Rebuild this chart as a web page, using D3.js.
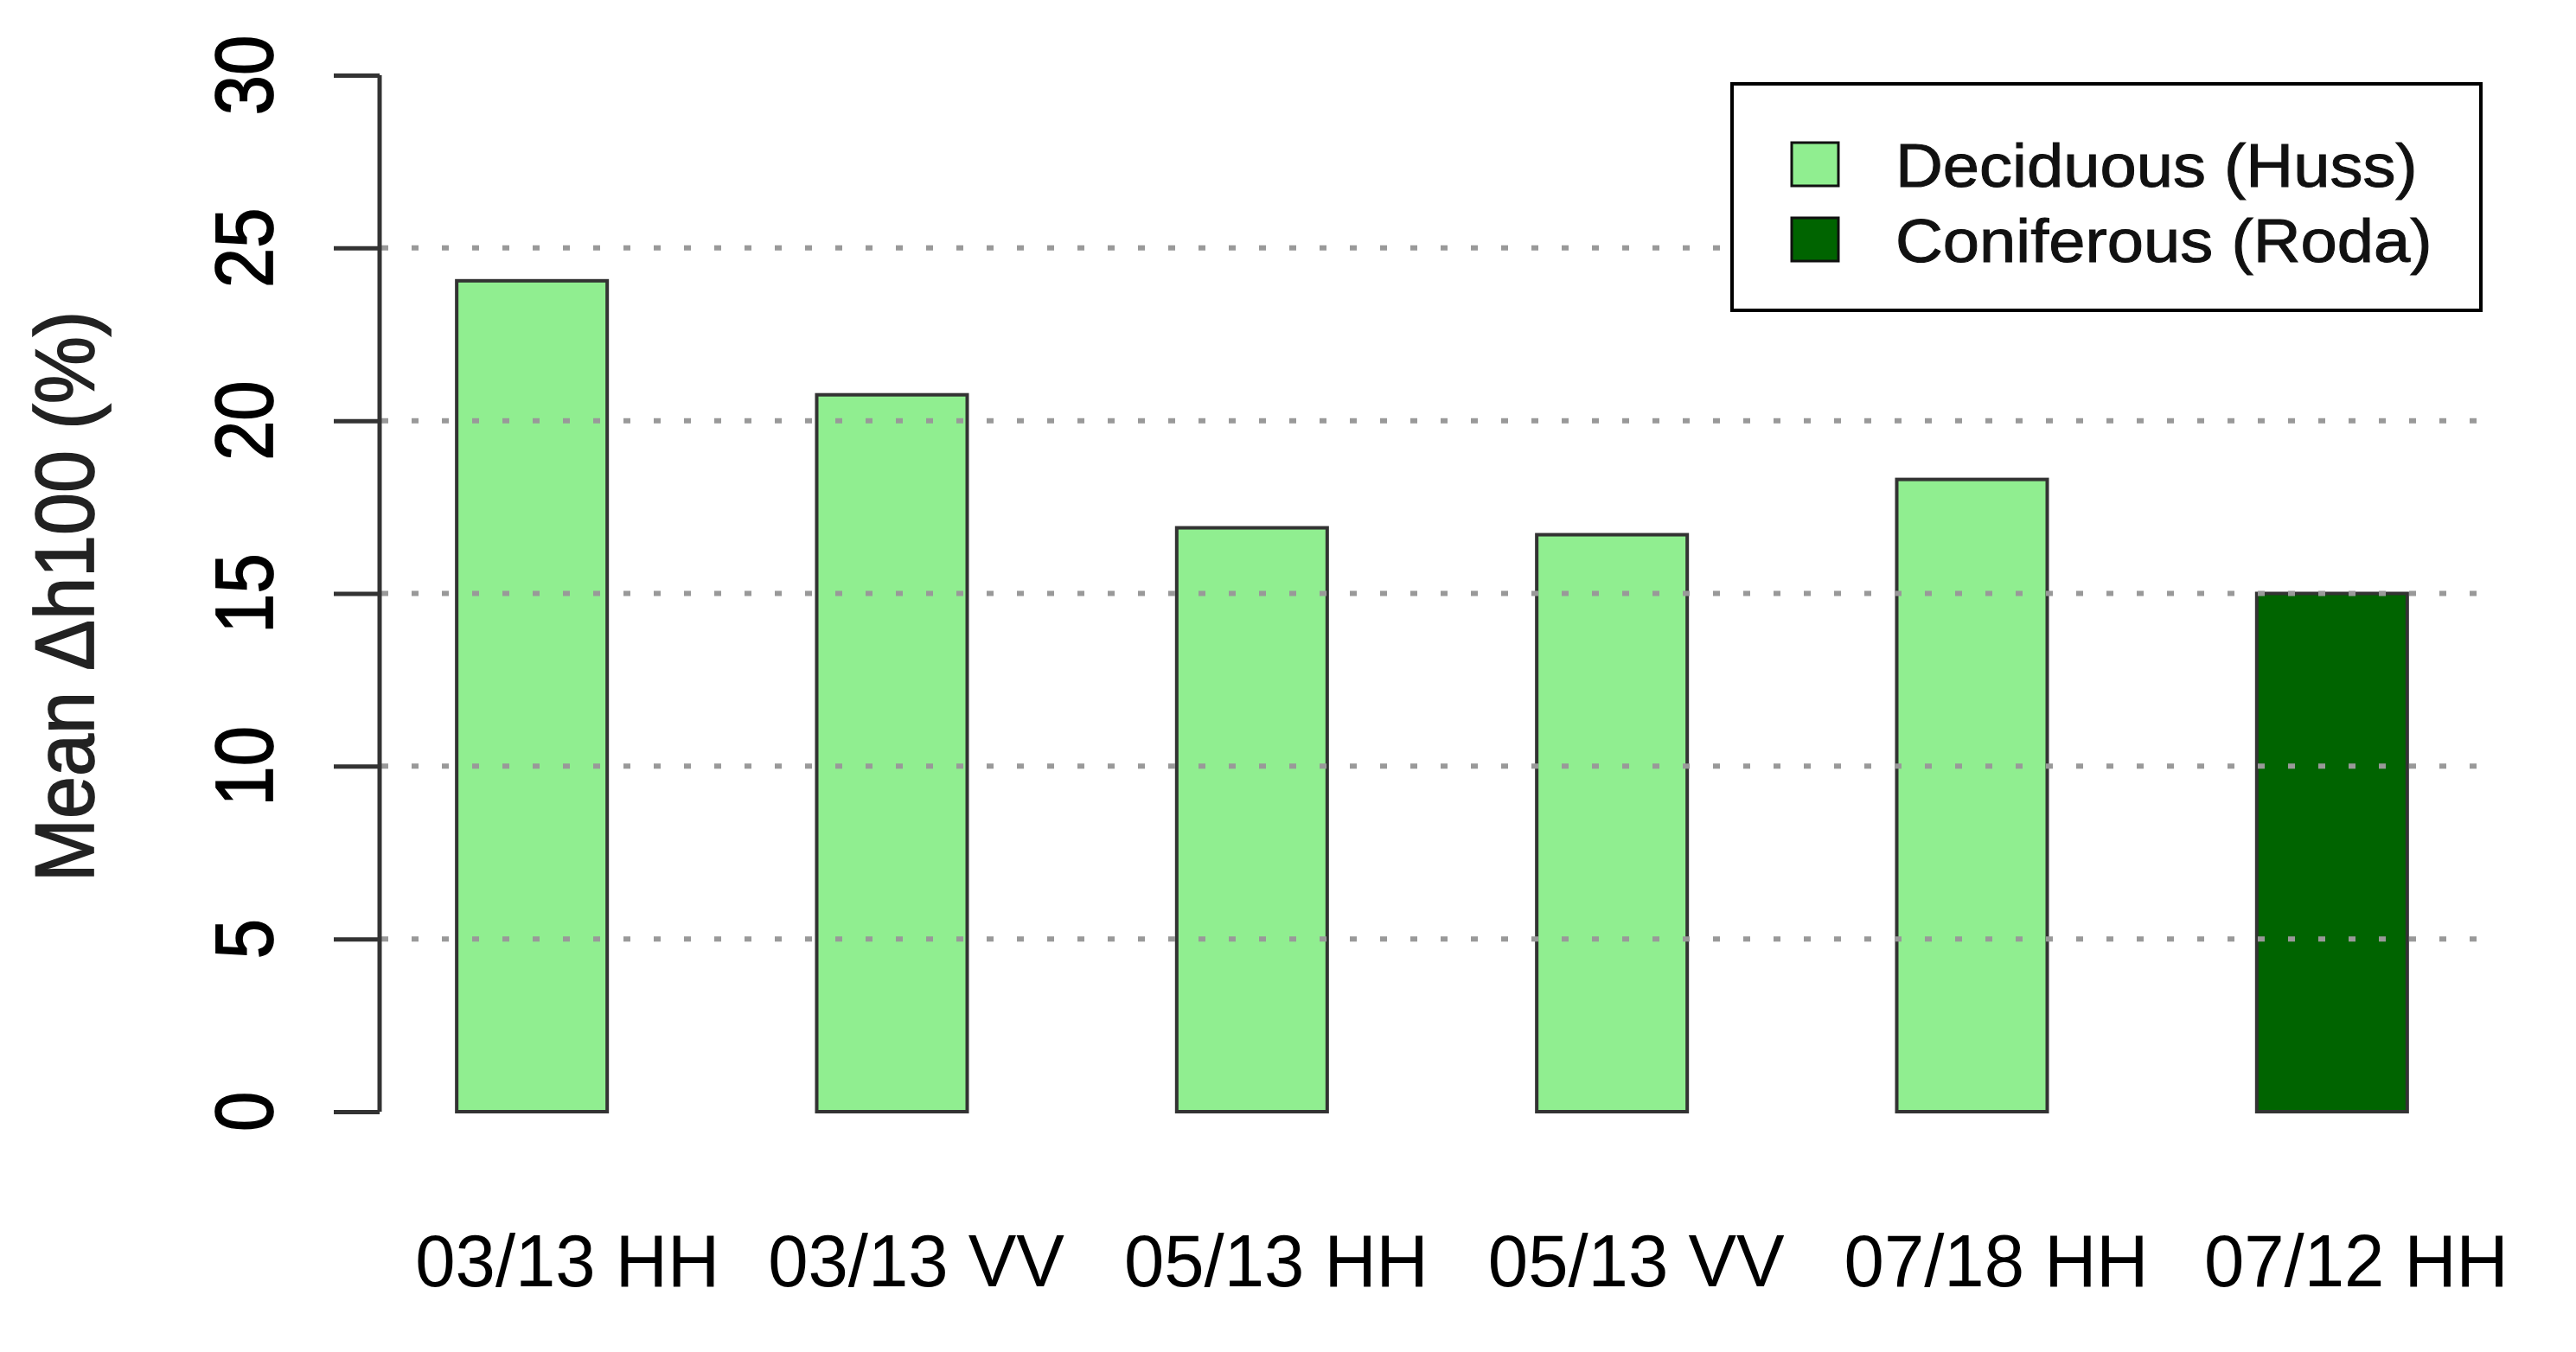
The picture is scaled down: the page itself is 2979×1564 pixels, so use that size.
<!DOCTYPE html>
<html lang="en">
<head>
<meta charset="utf-8">
<script src="https://d3js.org/d3.v7.min.js"></script>
<style>
  body { margin: 0; background: #fff; }
  svg { font-family: "Liberation Sans", Arial, sans-serif; }
</style>
</head>
<body>
<svg width="2979" height="1564"></svg>
<script>
// data
var categories = ["03/13 HH", "03/13 VV", "05/13 HH", "05/13 VV", "07/18 HH", "07/12 HH"];
var values = [24.05, 20.75, 16.9, 16.7, 18.3, 15.0];
var groups = ["dec", "dec", "dec", "dec", "dec", "con"];
var yTicks = [0, 5, 10, 15, 20, 25, 30];
var gridTicks = [5, 10, 15, 20, 25];
var legendLabels = ["Deciduous (Huss)", "Coniferous (Roda)"];
var legendKeys = ["dec", "con"];

var svg = d3.select("svg");

var color = d3.scaleOrdinal()
    .domain(["dec", "con"])
    .range(["#90ee90", "#006400"]);

var y = d3.scaleLinear().domain([0, 30]).range([1286, 87]);

var x = d3.scaleBand()
    .domain(categories)
    .range([407, 2905])
    .paddingInner(0.582)
    .paddingOuter(0.291);

// bars
svg.append("g").selectAll("rect")
    .data(values)
    .enter().append("rect")
      .attr("x", function(d, i) { return x(categories[i]); })
      .attr("y", function(d) { return y(d); })
      .attr("width", x.bandwidth())
      .attr("height", function(d) { return y(0) - y(d); })
      .attr("fill", function(d, i) { return color(groups[i]); })
      .attr("stroke", "#333")
      .attr("stroke-width", 4);

// dotted grid, drawn over the bars like abline() in R
svg.append("g").selectAll("line")
    .data(gridTicks)
    .enter().append("line")
      .attr("x1", 441)
      .attr("x2", 2876)
      .attr("y1", function(d) { return y(d); })
      .attr("y2", function(d) { return y(d); })
      .attr("stroke", "#999")
      .attr("stroke-width", 6)
      .attr("stroke-dasharray", "8,27");

// y axis
var yAxis = d3.axisLeft(y).tickValues(yTicks).tickSize(53).tickFormat(d3.format("d"));
var ax = svg.append("g")
    .attr("transform", "translate(439,0)")
    .call(yAxis);
ax.select(".domain").attr("stroke", "#333").attr("stroke-width", 5)
    .attr("d", "M0," + y(0) + "V" + y(30));
ax.selectAll(".tick line").attr("stroke", "#333").attr("stroke-width", 5);
ax.selectAll(".tick text").remove();

svg.append("g").selectAll("text")
    .data(yTicks)
    .enter().append("text")
      .attr("transform", function(d) { return "translate(315," + y(d) + ") rotate(-90) scale(1,1.14)"; })
      .attr("text-anchor", "middle")
      .attr("font-size", 83)
      .attr("fill", "#000")
      .attr("stroke", "#000")
      .attr("stroke-width", 1.5)
      .text(function(d) { return d; });

svg.append("text")
    .attr("transform", "translate(108,690) rotate(-90) scale(1,1.1)")
    .attr("text-anchor", "middle")
    .attr("font-size", 88)
    .attr("fill", "#222")
    .attr("stroke", "#222")
    .attr("stroke-width", 1.5)
    .text("Mean \u0394h100 (%)");

// category labels
svg.append("g").selectAll("text")
    .data(categories)
    .enter().append("text")
      .attr("transform", function(d, i) {
        var nudge = i === 0 ? 13 : 0;
        return "translate(" + (x(d) + x.bandwidth() / 2 + 28 + nudge) + ",1488) scale(0.98,1)";
      })
      .attr("text-anchor", "middle")
      .attr("font-size", 85)
      .attr("fill", "#000")
      .text(function(d) { return d; });

// legend
var lg = svg.append("g");
lg.append("rect")
    .attr("x", 2003).attr("y", 97)
    .attr("width", 866).attr("height", 262)
    .attr("fill", "#fff")
    .attr("stroke", "#000")
    .attr("stroke-width", 4);

var row = lg.selectAll("g.row")
    .data(legendLabels)
    .enter().append("g")
      .attr("class", "row")
      .attr("transform", function(d, i) { return "translate(0," + (190 + i * 87) + ")"; });

row.append("rect")
    .attr("x", 2072).attr("y", -25)
    .attr("width", 54).attr("height", 50)
    .attr("fill", function(d, i) { return color(legendKeys[i]); })
    .attr("stroke", "#111")
    .attr("stroke-width", 3);

row.append("text")
    .attr("transform", "translate(2192,26) scale(1.07,1)")
    .attr("font-size", 71)
    .attr("fill", "#111")
    .attr("stroke", "#111")
    .attr("stroke-width", 1)
    .text(function(d) { return d; });
</script>
</body>
</html>
